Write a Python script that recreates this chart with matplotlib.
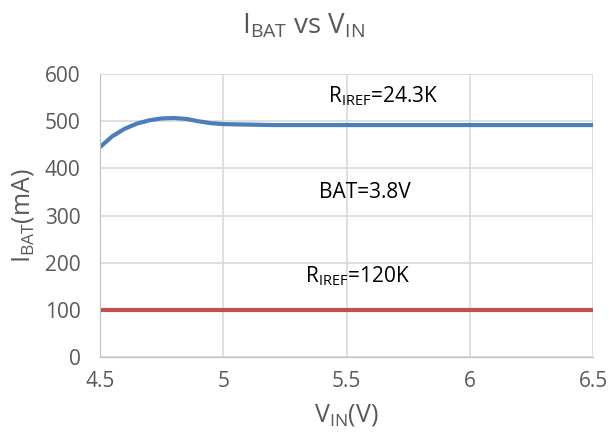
import numpy as np
import matplotlib
matplotlib.use('Agg')
import matplotlib.pyplot as plt

vin = [4.5, 4.55, 4.6, 4.65, 4.7, 4.75, 4.8, 4.85, 4.9, 4.95, 5.0, 5.1, 5.2, 5.4, 5.6, 6.0, 6.5]
ibat_24k = [445, 468, 484, 495, 502, 506, 507, 505, 500, 496, 494, 493, 492, 492, 492, 492, 492]
vin_120k = [4.5, 5.0, 5.5, 6.0, 6.5]
ibat_120k = [100, 100, 100, 100, 100]

grey = '#595959'
plt.rcParams['font.family'] = ['Open Sans', 'DejaVu Sans']
plt.rcParams['mathtext.fontset'] = 'custom'
plt.rcParams['mathtext.rm'] = 'Open Sans'

fig = plt.figure(figsize=(6.09, 4.44), dpi=100)
ax = fig.add_axes([0.164, 0.196, 0.81, 0.637])

ax.plot(vin, ibat_24k, color='#4a7ebb', lw=3, solid_capstyle='butt')
ax.plot(vin_120k, ibat_120k, color='#c0504d', lw=3, solid_capstyle='butt')

ax.set_xlim(4.5, 6.5)
ax.set_ylim(0, 600)
ax.set_xticks([4.5, 5, 5.5, 6, 6.5])
ax.set_xticklabels(['4.5', '5', '5.5', '6', '6.5'])
ax.set_yticks(range(0, 601, 100))
ax.grid(True, color='#d9d9d9', lw=1.2)
ax.set_axisbelow(True)
for s in ['top', 'right']:
    ax.spines[s].set_visible(False)
for s in ['left', 'bottom']:
    ax.spines[s].set_color('#bfbfbf')
ax.tick_params(length=0, labelsize=15, colors=grey)
ax.tick_params(axis='y', pad=14)
ax.tick_params(axis='x', pad=10)

ax.text(5.425, 540, r'R$_{\mathregular{IREF}}$=24.3K', ha='left', va='baseline', fontsize=15, color='black')
ax.text(5.388, 337, 'BAT=3.8V', ha='left', va='baseline', fontsize=15, color='black')
ax.text(5.332, 159, r'R$_{\mathregular{IREF}}$=120K', ha='left', va='baseline', fontsize=15, color='black')

ax.set_xlabel(r'V$_{\mathregular{IN}}$(V)', fontsize=18, color=grey, labelpad=7)
ax.set_ylabel(r'I$_{\mathregular{BAT}}$(mA)', fontsize=18, color=grey, labelpad=6)
fig.text(0.4975, 0.9257, r'I$_{\mathregular{BAT}}$ vs V$_{\mathregular{IN}}$', ha='center', va='baseline', fontsize=20, color=grey)

fig.savefig('out.png', dpi=100)
